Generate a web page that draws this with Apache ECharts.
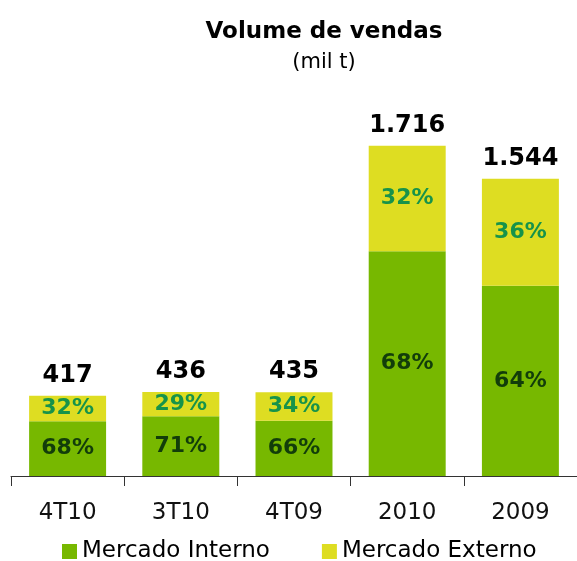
<!DOCTYPE html>
<html>
<head>
<meta charset="utf-8">
<script src="https://cdn.jsdelivr.net/npm/echarts@6/dist/echarts.min.js"></script>
<style>
html, body { margin: 0; padding: 0; background: #fff; }
#chart { width: 577px; height: 561px; }
</style>
</head>
<body>
<div id="chart"></div>
<script>
var categories = ['4T10', '3T10', '4T09', '2010', '2009'];
var interno = [284, 310, 287, 1167, 988];
var externo = [133, 126, 148, 549, 556];
var totals = [417, 436, 435, 1716, 1544];
var totalLabels = ['417', '436', '435', '1.716', '1.544'];
var pctInterno = ['68%', '71%', '66%', '68%', '64%'];
var pctExterno = ['32%', '29%', '34%', '32%', '36%'];

var font = 'DejaVu Sans';
var chart = echarts.init(document.getElementById('chart'));
var option = {
    animation: false,
    title: {
        text: 'Volume de vendas',
        subtext: '(mil t)',
        left: 319,
        top: 16,
        textAlign: 'center',
        itemGap: 8,
        textStyle: { fontFamily: font, fontSize: 23, fontWeight: 'bold', color: '#000' },
        subtextStyle: { fontFamily: font, fontSize: 21, color: '#000' }
    },
    legend: {
        top: 540,
        left: 62,
        padding: 0,
        itemWidth: 15,
        itemHeight: 15,
        itemGap: 52,
        icon: 'rect',
        textStyle: { fontFamily: font, fontSize: 23, color: '#000' },
        data: ['Mercado Interno', 'Mercado Externo']
    },
    grid: { left: 11, right: 0, top: 91, bottom: 85 },
    xAxis: {
        type: 'category',
        data: categories,
        axisLine: { lineStyle: { color: '#333', width: 1 } },
        axisTick: { show: true, length: 10, lineStyle: { color: '#333' } },
        axisLabel: { fontFamily: font, fontSize: 23, color: '#111', margin: 26 }
    },
    yAxis: { type: 'value', min: 0, max: 2000, show: false },
    series: [
        {
            name: 'Mercado Interno',
            type: 'bar',
            stack: 'v',
            barWidth: '68%',
            data: interno,
            itemStyle: { color: '#77b800' },
            label: {
                show: true,
                position: 'inside',
                fontFamily: font, fontSize: 22, fontWeight: 'bold', color: '#123d0a',
                formatter: function (p) { return pctInterno[p.dataIndex]; }
            }
        },
        {
            name: 'Mercado Externo',
            type: 'bar',
            stack: 'v',
            data: externo,
            itemStyle: { color: '#dedd22' },
            label: {
                show: true,
                position: 'inside',
                fontFamily: font, fontSize: 22, fontWeight: 'bold', color: '#17934a',
                formatter: function (p) { return pctExterno[p.dataIndex]; }
            }
        },
        {
            name: 'total',
            type: 'line',
            data: totals,
            symbol: 'circle',
            symbolSize: 0,
            showSymbol: true,
            lineStyle: { opacity: 0 },
            silent: true,
            label: {
                show: true,
                position: 'top',
                distance: 8,
                fontFamily: font, fontSize: 24, fontWeight: 'bold', color: '#000',
                formatter: function (p) { return totalLabels[p.dataIndex]; }
            }
        }
    ]
};
chart.setOption(option);
</script>
</body>
</html>
